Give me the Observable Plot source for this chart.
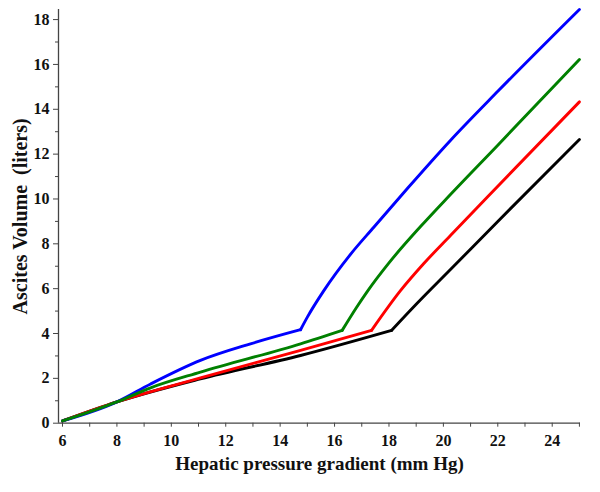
<!DOCTYPE html>
<html><head><meta charset="utf-8">
<script src="https://cdn.jsdelivr.net/npm/d3@7"></script>
<script src="https://cdn.jsdelivr.net/npm/@observablehq/plot@0.6"></script>
<style>body{margin:0;background:#fff;} svg{display:block;}</style>
</head><body><div id="chart"></div>
<script>
const xLabel = "Hepatic pressure gradient (mm Hg)";
const yLabel = "Ascites Volume\u00a0\u00a0(liters)";
const xMajor = [6, 8, 10, 12, 14, 16, 18, 20, 22, 24];
const xMinor = [7, 9, 11, 13, 15, 17, 19, 21, 23, 25];
const yMajor = [0, 2, 4, 6, 8, 10, 12, 14, 16, 18];
const yMinor = [1, 3, 5, 7, 9, 11, 13, 15, 17];

const seriesNames = ["black", "red", "blue", "green"];
const seriesColors = ["#000000", "#ff0000", "#0000ff", "#008000"];
const kinkX = [18.1, 17.36, 14.75, 16.28];

const blackX = [6, 8, 11.07, 14.75, 18.1, 19, 20.26, 22, 25];
const blackY = [0.1, 0.95, 1.98, 3.02, 4.14, 5.3, 6.85, 9.0, 12.65];
const redX = [6, 8, 11.07, 14.75, 17.36, 18.43, 19.28, 20.26, 21.61, 25];
const redY = [0.1, 0.95, 2.02, 3.25, 4.14, 5.92, 7.12, 8.37, 10.08, 14.33];
const blueX = [6, 8, 9.24, 11.07, 12.91, 14.75, 15.0, 15.6, 16.6, 17.45, 18.7, 20.25, 22, 25];
const blueY = [0.1, 0.95, 1.75, 2.8, 3.54, 4.17, 4.73, 5.9, 7.55, 8.75, 10.5, 12.6, 14.8, 18.45];
const greenX = [6, 8, 9.24, 11.07, 14.75, 16.28, 16.8, 17.2, 18, 19.16, 20.26, 22, 25];
const greenY = [0.1, 0.95, 1.58, 2.28, 3.54, 4.14, 5.15, 5.87, 7.15, 8.77, 10.2, 12.4, 16.22];

const seriesX = [blackX, redX, blueX, greenX];
const seriesY = [blackY, redY, blueY, greenY];
const rows = [];
seriesNames.forEach((name, k) => {
  seriesX[k].forEach((x, i) => {
    const y = seriesY[k][i];
    if (x <= kinkX[k]) rows.push({series: name, seg: name + "-a", x, y});
    if (x >= kinkX[k]) rows.push({series: name, seg: name + "-b", x, y});
  });
});

const chart = Plot.plot({
  width: 600,
  height: 492,
  marginLeft: 58,
  marginRight: 20,
  marginTop: 9,
  marginBottom: 69.3,
  x: {domain: [5.853, 25.04]},
  y: {domain: [0, 18.45]},
  color: {domain: seriesNames, range: seriesColors},
  style: {fontFamily: "'Liberation Serif', 'Times New Roman', serif", fontSize: "16px", fontWeight: "bold", color: "#111", background: "#fff"},
  marks: [
    Plot.axisX({ticks: xMajor, tickSize: 4, tickPadding: 7, label: null, stroke: "#444"}),
    Plot.axisX({ticks: xMinor, tickSize: 4, tickFormat: () => "", label: null, stroke: "#444"}),
    Plot.axisY({ticks: yMajor, tickSize: 5, tickPadding: 4, label: null, stroke: "#444"}),
    Plot.axisY({ticks: yMinor, tickSize: 3, tickFormat: () => "", label: null, stroke: "#444"}),
    Plot.ruleY([0], {stroke: "#444", strokeWidth: 1.3}),
    Plot.ruleX([5.853], {stroke: "#444", strokeWidth: 1.3}),
    Plot.line(rows, {x: "x", y: "y", z: "seg", stroke: "series", strokeWidth: 2.9, curve: "monotone-x", strokeLinejoin: "round", strokeLinecap: "round"}),
    Plot.text([xLabel], {frameAnchor: "bottom", dy: 47, lineAnchor: "bottom", fontSize: 19, fontWeight: "bold", fill: "#111"}),
    Plot.text([yLabel], {frameAnchor: "left", dx: -38, rotate: -90, textAnchor: "middle", lineAnchor: "middle", fontSize: 20, fontWeight: "bold", fill: "#111"})
  ]
});
document.getElementById("chart").appendChild(chart);
</script>
</body></html>
